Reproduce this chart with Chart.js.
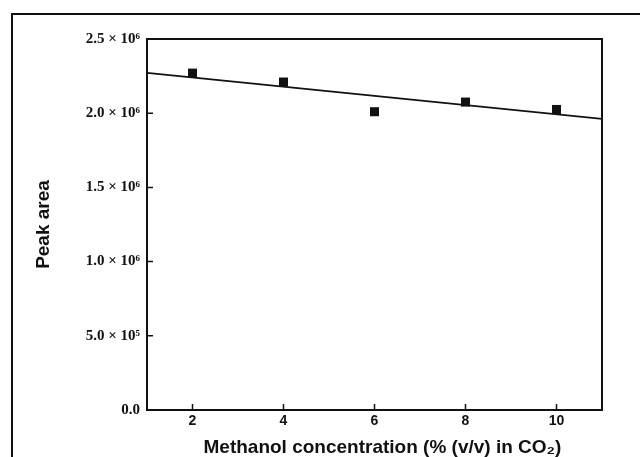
<!DOCTYPE html>
<html>
<head>
<meta charset="utf-8">
<script src="https://cdn.jsdelivr.net/npm/chart.js@4.4.1/dist/chart.umd.min.js"></script>
<style>
  html, body { margin: 0; padding: 0; background: #fff; }
  #wrap { position: relative; width: 640px; height: 457px; overflow: hidden; }
  #frame { position: absolute; left: 11px; top: 13px; width: 700px; height: 500px;
           border-left: 2px solid #111; border-top: 2px solid #111; }
  canvas { position: absolute; left: 0; top: 0; }
</style>
</head>
<body>
<div id="wrap">
  <div id="frame"></div>
  <canvas id="c" width="640" height="457"></canvas>
</div>
<script>
// ---- data ----
const methanolPct = [2, 4, 6, 8, 10];
const peakArea = [2.27e6, 2.21e6, 2.01e6, 2.075e6, 2.025e6];
const fitX = [1, 11];
const fitY = [2.272e6, 1.962e6];
const xTicks = [2, 4, 6, 8, 10];
const yTicks = [0, 5e5, 1e6, 1.5e6, 2e6, 2.5e6];
const yTickLabels = ['0.0', '5.0 × 10⁵', '1.0 × 10⁶', '1.5 × 10⁶', '2.0 × 10⁶', '2.5 × 10⁶'];
const xTitle = 'Methanol concentration (% (v/v) in CO₂)';
const yTitle = 'Peak area';

const ink = '#111';

const innerTicks = {
  id: 'innerTicks',
  afterDraw(chart) {
    const {ctx, chartArea: a, scales: {x, y}} = chart;
    ctx.save();
    ctx.strokeStyle = ink;
    ctx.lineWidth = 1.5;
    ctx.beginPath();
    x.ticks.forEach(t => {
      const px = x.getPixelForValue(t.value);
      ctx.moveTo(px, a.bottom); ctx.lineTo(px, a.bottom - 6);
    });
    y.ticks.forEach(t => {
      if (t.value === 0 || t.value === 2.5e6) return;
      const py = y.getPixelForValue(t.value);
      ctx.moveTo(a.left, py); ctx.lineTo(a.left + 6, py);
    });
    ctx.stroke();
    ctx.lineWidth = 2;
    ctx.strokeRect(a.left, a.top, a.right - a.left, a.bottom - a.top);
    ctx.restore();
  }
};

new Chart(document.getElementById('c'), {
  data: {
    datasets: [
      {
        type: 'line',
        data: fitX.map((v, i) => ({x: v, y: fitY[i]})),
        borderColor: ink,
        borderWidth: 1.8,
        pointRadius: 0,
        fill: false,
        order: 2
      },
      {
        type: 'scatter',
        data: methanolPct.map((v, i) => ({x: v, y: peakArea[i]})),
        pointStyle: 'rect',
        pointRadius: 6.4,
        backgroundColor: ink,
        borderColor: ink,
        borderWidth: 0,
        order: 1
      }
    ]
  },
  options: {
    responsive: false,
    animation: false,
    events: [],
    layout: { padding: { top: 39, right: 38, left: 34, bottom: 0 } },
    plugins: { legend: { display: false }, tooltip: { enabled: false } },
    scales: {
      x: {
        type: 'linear',
        min: 1, max: 11,
        afterBuildTicks: s => { s.ticks = xTicks.map(v => ({value: v})); },
        afterFit: s => { s.height = 47; },
        grid: { display: false, drawTicks: false },
        border: { display: false },
        ticks: {
          color: ink, padding: 3,
          font: { family: 'Liberation Sans, Arial, sans-serif', size: 14, weight: 'bold' },
          maxRotation: 0
        },
        title: {
          display: true, text: '   ' + xTitle, color: ink,
          padding: 0,
          font: { family: 'Liberation Sans, Arial, sans-serif', size: 19, weight: 'bold', lineHeight: 1 }
        }
      },
      y: {
        type: 'linear',
        min: 0, max: 2.5e6,
        afterBuildTicks: s => { s.ticks = yTicks.map(v => ({value: v})); },
        afterFit: s => { s.width = 113; },
        grid: { display: false, drawTicks: false },
        border: { display: false },
        ticks: {
          color: ink, padding: 7,
          font: { family: 'Liberation Serif, Times New Roman, serif', size: 15, weight: 'bold' },
          callback: (v) => { const i = yTicks.indexOf(v); return i >= 0 ? yTickLabels[i] : ''; }
        },
        title: {
          display: true, text: yTitle, color: ink,
          padding: 0,
          font: { family: 'Liberation Sans, Arial, sans-serif', size: 19, weight: 'bold', lineHeight: 1 }
        }
      }
    }
  },
  plugins: [innerTicks]
});
</script>
</body>
</html>
